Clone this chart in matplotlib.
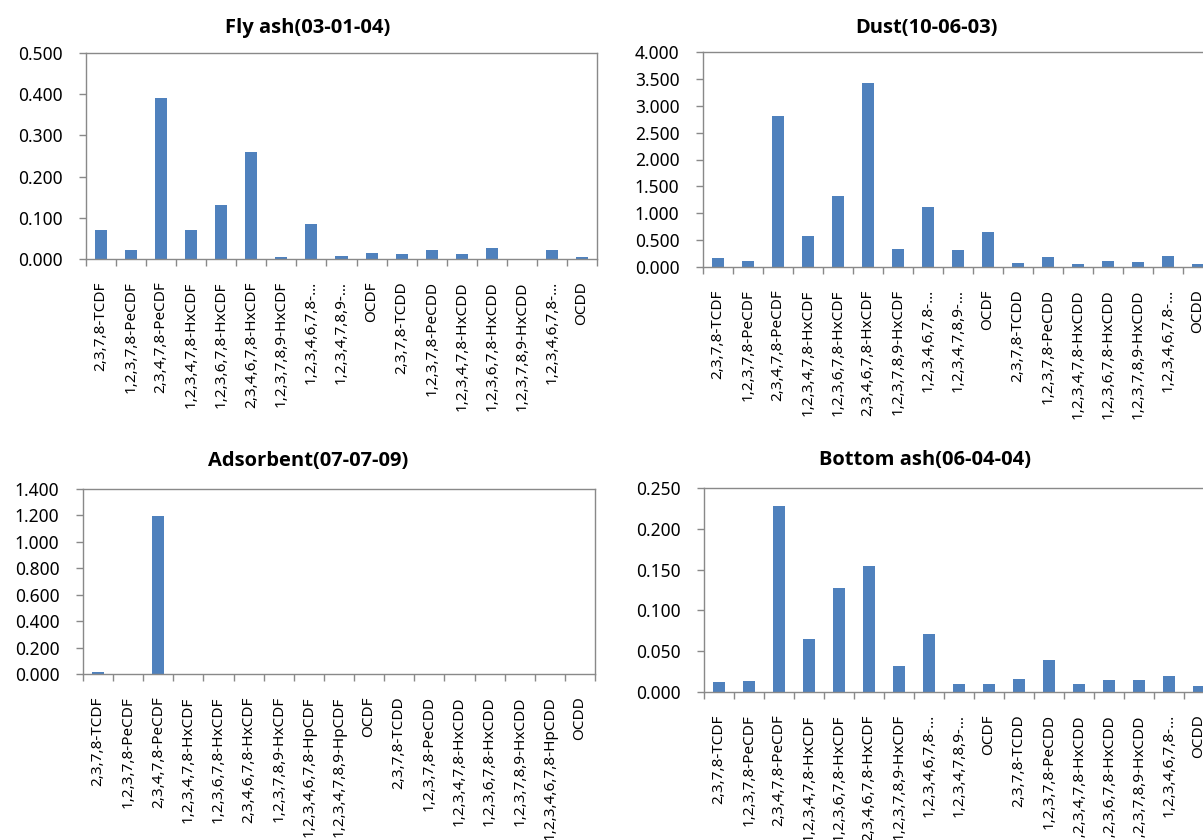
import matplotlib
matplotlib.use("Agg")
import matplotlib.pyplot as plt
from matplotlib import font_manager as fm
import numpy as np

plt.rcParams['font.family'] = ['Noto Sans', 'DejaVu Sans']

# pick a family that really has a bold face for titles
_bold_family = 'DejaVu Sans'
for cand in ['Noto Sans', 'Open Sans', 'Lato', 'Roboto', 'Liberation Sans']:
    if any(f.name == cand and (f.weight == 'bold' or (isinstance(f.weight, int) and f.weight >= 700))
           for f in fm.fontManager.ttflist):
        _bold_family = cand
        break

labels_full = ["2,3,7,8-TCDF", "1,2,3,7,8-PeCDF", "2,3,4,7,8-PeCDF", "1,2,3,4,7,8-HxCDF",
               "1,2,3,6,7,8-HxCDF", "2,3,4,6,7,8-HxCDF", "1,2,3,7,8,9-HxCDF",
               "1,2,3,4,6,7,8-HpCDF", "1,2,3,4,7,8,9-HpCDF", "OCDF", "2,3,7,8-TCDD",
               "1,2,3,7,8-PeCDD", "1,2,3,4,7,8-HxCDD", "1,2,3,6,7,8-HxCDD",
               "1,2,3,7,8,9-HxCDD", "1,2,3,4,6,7,8-HpCDD", "OCDD"]
labels_short = ["2,3,7,8-TCDF", "1,2,3,7,8-PeCDF", "2,3,4,7,8-PeCDF", "1,2,3,4,7,8-HxCDF",
                "1,2,3,6,7,8-HxCDF", "2,3,4,6,7,8-HxCDF", "1,2,3,7,8,9-HxCDF",
                "1,2,3,4,6,7,8-\u2026", "1,2,3,4,7,8,9-\u2026", "OCDF", "2,3,7,8-TCDD",
                "1,2,3,7,8-PeCDD", "1,2,3,4,7,8-HxCDD", "1,2,3,6,7,8-HxCDD",
                "1,2,3,7,8,9-HxCDD", "1,2,3,4,6,7,8-\u2026", "OCDD"]

fly_ash = [0.071, 0.021, 0.391, 0.071, 0.132, 0.259, 0.005, 0.086, 0.0065, 0.0145,
           0.013, 0.023, 0.013, 0.027, 0.0, 0.023, 0.005]
dust = [0.16, 0.12, 2.81, 0.58, 1.33, 3.42, 0.33, 1.12, 0.31, 0.66,
        0.07, 0.18, 0.06, 0.12, 0.09, 0.20, 0.06]
adsorbent = [0.018, 0.0, 1.195, 0.0, 0.0, 0.0, 0.0, 0.0, 0.0, 0.0,
             0.0, 0.0, 0.0, 0.0, 0.0, 0.0, 0.0]
bottom_ash = [0.012, 0.013, 0.228, 0.065, 0.128, 0.155, 0.032, 0.071, 0.0098, 0.0098,
              0.016, 0.039, 0.0096, 0.015, 0.015, 0.019, 0.0068]

titles = ["Fly ash(03-01-04)", "Dust(10-06-03)", "Adsorbent(07-07-09)", "Bottom ash(06-04-04)"]
ymax = [0.5, 4.0, 1.4, 0.25]
ystep = [0.1, 0.5, 0.2, 0.05]

W, H = 1203, 840
fig = plt.figure(figsize=(W / 100, H / 100), dpi=100)

# axes boxes in pixels: left, top, right, bottom
boxes = [(86, 53, 597, 259), (703, 52, 1213, 267), (83, 489, 595, 674), (704, 488, 1214, 692)]
title_pos = [(308, 28), (926, 28), (308, 461), (925, 460)]
series = [fly_ash, dust, adsorbent, bottom_ash]
lab_sets = [labels_short, labels_short, labels_full, labels_short]

BAR = '#4F81BD'
SPINE = '#898989'

for i in range(4):
    l, t, r, b = boxes[i]
    ax = fig.add_axes([l / W, (H - b) / H, (r - l) / W, (b - t) / H])
    x = np.arange(len(labels_full))
    ax.bar(x, series[i], width=0.4, color=BAR, edgecolor='none', zorder=2)
    ax.set_xlim(-0.5, len(labels_full) - 0.5)
    ax.set_ylim(0, ymax[i])
    yt = np.arange(0, ymax[i] + ystep[i] / 2, ystep[i])
    ax.set_yticks(yt)
    ax.set_yticklabels([f"{v:.3f}" for v in yt], fontsize=12.5)
    ax.set_xticks(x)
    ax.set_xticklabels(lab_sets[i], rotation=90, fontsize=11, ha='center', va='top')
    ax.set_xticks(np.arange(-0.5, len(labels_full)), minor=True)
    ax.tick_params(axis='x', which='major', length=0, pad=16)
    ax.tick_params(axis='x', which='minor', length=5, width=1.0, color=SPINE, direction='out')
    ax.tick_params(axis='y', which='major', length=5, width=1.0, color=SPINE, direction='out', pad=12)
    for s in ax.spines.values():
        s.set_color(SPINE)
        s.set_linewidth(1.0)
    tx, ty = title_pos[i]
    fig.text(tx / W, (H - ty) / H, titles[i], ha='center', va='center',
             fontsize=14.5, fontweight='bold', family=[_bold_family, 'DejaVu Sans'])

fig.savefig('out.png', dpi=100)
